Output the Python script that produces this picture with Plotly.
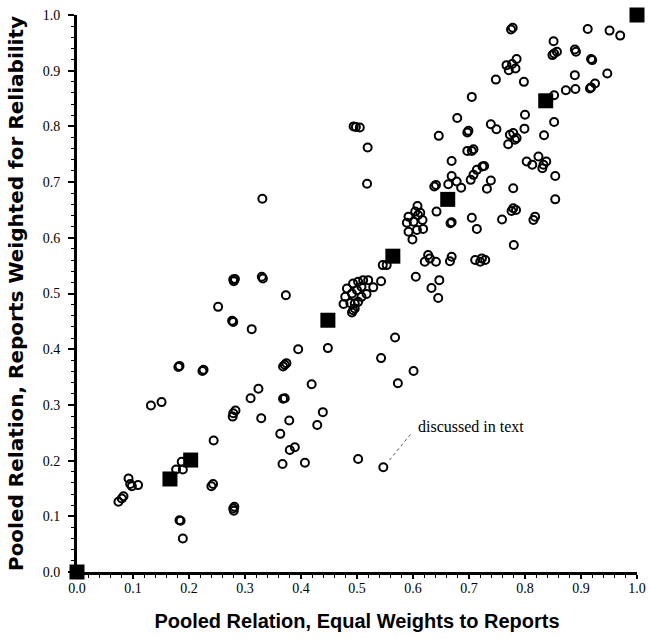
import plotly.graph_objects as go

# Open circles: individual report pairs (x = equal weights, y = weighted for reliability)
circle_x = [
    0.775, 0.778, 0.912, 0.951, 0.970, 0.851, 0.889, 0.891, 0.852, 0.857, 0.849, 0.920, 0.918, 0.785,
    0.767, 0.777, 0.771, 0.783, 0.748, 0.798, 0.889, 0.947, 0.873, 0.890, 0.918, 0.925, 0.916, 0.852,
    0.705, 0.800, 0.852, 0.679, 0.739, 0.749, 0.646, 0.697, 0.699, 0.773, 0.779, 0.785, 0.770, 0.782,
    0.799, 0.834, 0.494, 0.498, 0.505, 0.519, 0.518, 0.669, 0.697, 0.708, 0.705, 0.803, 0.813, 0.824,
    0.833, 0.838, 0.831, 0.854, 0.669, 0.678, 0.663, 0.641, 0.638, 0.686, 0.703, 0.708, 0.714, 0.724,
    0.727, 0.739, 0.732, 0.779, 0.854,
    0.608, 0.604, 0.592, 0.613, 0.617, 0.601, 0.589, 0.607, 0.618, 0.592, 0.599, 0.609, 0.642, 0.667,
    0.669, 0.705, 0.714, 0.759, 0.779, 0.784, 0.776, 0.818, 0.815, 0.780, 0.546, 0.553, 0.627, 0.621,
    0.641, 0.630, 0.669, 0.666, 0.711, 0.723, 0.729, 0.720, 0.605, 0.647, 0.633, 0.645, 0.543,
    0.482, 0.493, 0.502, 0.511, 0.520, 0.529, 0.479, 0.491, 0.500, 0.508, 0.517, 0.476, 0.488, 0.496,
    0.502, 0.493, 0.491, 0.496, 0.508,
    0.395, 0.448, 0.568, 0.543, 0.601, 0.573,
    0.419, 0.439, 0.429, 0.407, 0.502, 0.547,
    0.132, 0.151, 0.310, 0.324, 0.278, 0.279, 0.283, 0.329, 0.368, 0.371, 0.379, 0.363, 0.380, 0.389,
    0.367, 0.244, 0.240, 0.243, 0.279, 0.281, 0.280, 0.183, 0.185, 0.189, 0.187, 0.177, 0.189, 0.092,
    0.098, 0.109, 0.095, 0.074, 0.080, 0.083,
    0.331, 0.279, 0.282, 0.280, 0.330, 0.332, 0.373, 0.252, 0.279, 0.277, 0.312, 0.183, 0.181, 0.226,
    0.224, 0.371, 0.374, 0.368,
]
circle_y = [
    0.974, 0.977, 0.975, 0.972, 0.963, 0.953, 0.938, 0.934, 0.931, 0.934, 0.928, 0.919, 0.921, 0.921,
    0.910, 0.912, 0.901, 0.904, 0.884, 0.880, 0.892, 0.895, 0.865, 0.867, 0.870, 0.877, 0.868, 0.856,
    0.853, 0.821, 0.808, 0.815, 0.804, 0.795, 0.783, 0.789, 0.792, 0.785, 0.788, 0.779, 0.768, 0.776,
    0.796, 0.784, 0.800, 0.799, 0.798, 0.762, 0.697, 0.738, 0.756, 0.759, 0.756, 0.737, 0.731, 0.746,
    0.731, 0.737, 0.725, 0.711, 0.711, 0.701, 0.696, 0.695, 0.692, 0.690, 0.704, 0.713, 0.722, 0.728,
    0.729, 0.703, 0.688, 0.689, 0.669,
    0.657, 0.647, 0.638, 0.645, 0.632, 0.629, 0.627, 0.614, 0.616, 0.611, 0.597, 0.641, 0.647, 0.626,
    0.628, 0.636, 0.616, 0.633, 0.653, 0.650, 0.648, 0.638, 0.632, 0.587, 0.551, 0.551, 0.569, 0.557,
    0.557, 0.563, 0.566, 0.558, 0.560, 0.563, 0.560, 0.557, 0.530, 0.524, 0.510, 0.492, 0.522,
    0.509, 0.518, 0.521, 0.524, 0.524, 0.511, 0.494, 0.500, 0.506, 0.512, 0.499, 0.481, 0.483, 0.482,
    0.485, 0.470, 0.466, 0.473, 0.494,
    0.400, 0.402, 0.421, 0.384, 0.361, 0.339,
    0.337, 0.287, 0.264, 0.196, 0.203, 0.188,
    0.299, 0.305, 0.312, 0.329, 0.279, 0.285, 0.290, 0.276, 0.311, 0.312, 0.272, 0.248, 0.219, 0.224,
    0.194, 0.236, 0.154, 0.158, 0.114, 0.117, 0.110, 0.093, 0.092, 0.060, 0.198, 0.184, 0.184, 0.168,
    0.154, 0.156, 0.158, 0.126, 0.132, 0.136,
    0.670, 0.525, 0.526, 0.522, 0.530, 0.527, 0.497, 0.476, 0.449, 0.451, 0.436, 0.370, 0.368, 0.363,
    0.361, 0.372, 0.375, 0.369,
]

# Filled squares
square_x = [0.0, 0.166, 0.203, 0.448, 0.564, 0.662, 0.837, 1.0]
square_y = [0.0, 0.167, 0.201, 0.452, 0.567, 0.669, 0.846, 1.0]

tick_vals = [0.0, 0.1, 0.2, 0.3, 0.4, 0.5, 0.6, 0.7, 0.8, 0.9, 1.0]
tick_text = ["0.0", "0.1", "0.2", "0.3", "0.4", "0.5", "0.6", "0.7", "0.8", "0.9", "1.0"]

note_text = "discussed in text"

fig = go.Figure()
fig.add_trace(go.Scatter(
    x=circle_x, y=circle_y, mode="markers",
    marker=dict(symbol="circle-open", size=8, color="black", line=dict(width=2, color="black")),
    cliponaxis=False, showlegend=False, hoverinfo="x+y",
))
fig.add_trace(go.Scatter(
    x=square_x, y=square_y, mode="markers",
    marker=dict(symbol="square", size=15, color="black"),
    cliponaxis=False, showlegend=False, hoverinfo="x+y",
))

fig.add_shape(type="line", xref="x", yref="y", x0=0.558, y0=0.201, x1=0.598, y1=0.250,
              line=dict(color="#555", width=1, dash="dot"))
fig.add_annotation(x=0.606, y=0.261, xref="x", yref="y", text=note_text, showarrow=False,
                   xanchor="left", yanchor="middle",
                   font=dict(family="Liberation Serif", size=16, color="black"))

axis_common = dict(
    range=[0, 1], tickvals=tick_vals, ticktext=tick_text, showgrid=False, zeroline=False,
    showline=True, linecolor="black", ticks="outside", tickwidth=1.5, tickcolor="black",
    tickfont=dict(family="Liberation Serif", size=14, color="black"), automargin=False,
    minor=dict(dtick=0.02, ticks="outside", ticklen=3, tickwidth=1, tickcolor="black"),
)

fig.update_xaxes(**axis_common, linewidth=2.5, ticklen=4, ticklabelstandoff=-3,
                 title=dict(text="Pooled Relation, Equal Weights to Reports", standoff=20,
                            font=dict(family="Liberation Sans", size=20, color="black", weight="bold")))
fig.update_yaxes(**axis_common, linewidth=3, ticklen=6, ticklabelstandoff=5,
                 title=dict(text="Pooled Relation, Reports Weighted for Reliability", standoff=14,
                            font=dict(family="DejaVu Sans", size=20, color="black", weight="bold")))

fig.update_layout(
    width=648, height=639,
    margin=dict(l=77, r=11, t=15, b=67, autoexpand=False),
    plot_bgcolor="white", paper_bgcolor="white",
)

fig.write_html(
    "out.html",
    config={"displayModeBar": False},
    post_script="document.body.style.margin='0';document.body.style.padding='0';"
                "document.body.style.overflow='hidden';",
)
